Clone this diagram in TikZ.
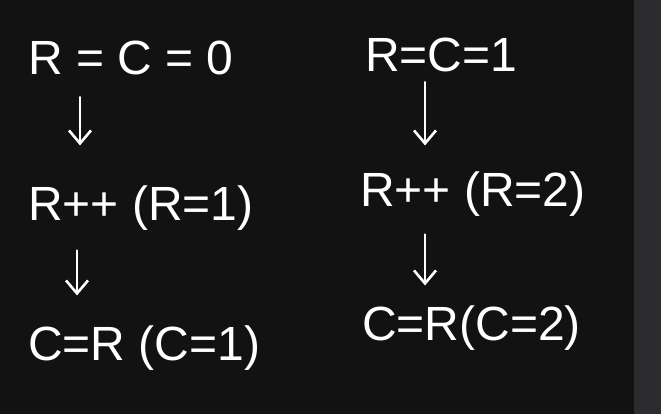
\documentclass[tikz,border=0pt]{standalone}
\usepackage{fontspec}
\setmainfont{Liberation Sans}
\usetikzlibrary{arrows.meta}
\definecolor{board}{HTML}{121212}
\definecolor{sidebar}{HTML}{2B2B30}
\tikzset{
  >={Straight Barb[length=13pt,width=22pt]},
  step text/.style={anchor=west, inner sep=0pt, text=white, font=\fontsize{48}{52}\selectfont},
  down arrow/.style={->, draw=white, line width=2.6pt, line cap=round},
}

\begin{document}
\begin{tikzpicture}[x=1pt, y=1pt]
    % board and side strip
    \fill[board] (0,0) rectangle (661,414);
    \fill[sidebar] (634,0) rectangle (661,414);
    \useasboundingbox (0,0) rectangle (661,414);
    % left column
    \node[step text] (l0) at (28,356) {R = C = 0};
    \node[step text] (l1) at (28,206) {R++ (R=1)};
    \node[step text] (l2) at (28,66)  {C=R (C=1)};
    % right column
    \node[step text] (r0) at (365,359) {R=C=1};
    \node[step text] (r1) at (360,220) {R++ (R=2)};
    \node[step text] (r2) at (362,86)  {C=R(C=2)};
    \draw[down arrow] ([xshift=52pt,yshift=-22pt]l0.south west) -- ([xshift=52pt,yshift=40pt]l1.north west);
    \draw[down arrow] ([xshift=49pt,yshift=-20pt]l1.south west) -- ([xshift=49pt,yshift=30pt]l2.north west);
    \draw[down arrow] ([xshift=60pt,yshift=-10pt]r0.south west) -- ([xshift=65pt,yshift=26pt]r1.north west);
    \draw[down arrow] ([xshift=65pt,yshift=-18pt]r1.south west) -- ([xshift=63pt,yshift=20pt]r2.north west);
\end{tikzpicture}
\end{document}
